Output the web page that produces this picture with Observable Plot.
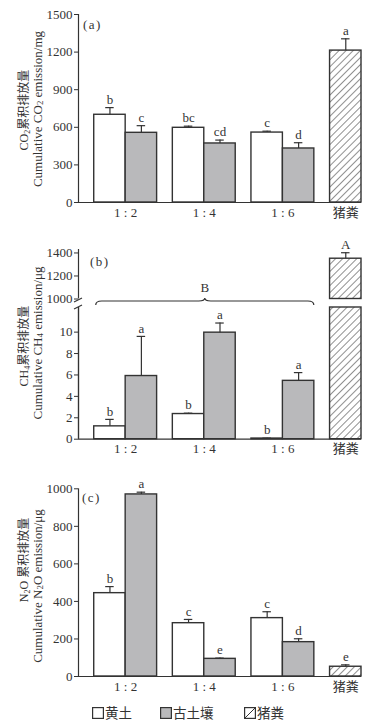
<!DOCTYPE html>
<html>
<head>
<meta charset="utf-8">
<script src="https://cdn.jsdelivr.net/npm/d3@7"></script>
<script src="https://cdn.jsdelivr.net/npm/@observablehq/plot@0.6"></script>
<style>
  html, body { margin: 0; padding: 0; background: #fff; }
  #root { position: relative; width: 379px; height: 727px; overflow: hidden; background: #fff;
          font-family: "Liberation Serif", "Noto Sans CJK SC", serif; color: #333; }
  #root svg { position: absolute; left: 0; overflow: visible; }
  .ylab { position: absolute; white-space: nowrap; font-size: 13px; line-height: 13px;
          transform: translate(-50%, -50%) rotate(-90deg); }
  .ylab.cn { font-size: 12px; line-height: 12px; }
  .ylab sub { font-size: 0.68em; vertical-align: -0.2em; line-height: 0; }
  .plab { position: absolute; font-size: 13px; letter-spacing: 1.5px; }
  .leg { position: absolute; font-size: 13.5px; font-family: "Noto Sans CJK SC", sans-serif; }
  .legbox { position: absolute; width: 12px; height: 12px; }
</style>
</head>
<body>
<div id="root"></div>
<script>
// ---------------- data ----------------
const groups = ["1:2", "1:4", "1:6"];
const manure = "猪粪";
const soils = ["黄土", "古土壤"];

// (a) CO2 cumulative emission, mg
const co2Loess = [700, 596, 558];
const co2LoessErr = [57, 13, 11];
const co2LoessSig = ["b", "bc", "c"];
const co2Paleo = [556, 471, 431];
const co2PaleoErr = [57, 27, 46];
const co2PaleoSig = ["c", "cd", "d"];
const co2Manure = 1212, co2ManureErr = 94, co2ManureSig = "a";
const co2Ticks = [0, 300, 600, 900, 1200, 1500];

// (b) CH4 cumulative emission, μg
const ch4Loess = [1.2, 2.35, 0.06];
const ch4LoessErr = [0.65, 0.08, 0.04];
const ch4LoessSig = ["b", "b", "b"];
const ch4Paleo = [5.9, 9.95, 5.45];
const ch4PaleoErr = [3.7, 0.9, 0.77];
const ch4PaleoSig = ["a", "a", "a"];
const ch4Manure = 1350, ch4ManureErr = 52, ch4ManureSig = "A";
const ch4SoilGroupSig = "B";
const ch4TicksHigh = [1000, 1200, 1400];
const ch4TicksLow = [0, 2, 4, 6, 8, 10];

// (c) N2O cumulative emission, μg
const n2oLoess = [444, 284, 311];
const n2oLoessErr = [35, 20, 34];
const n2oLoessSig = ["b", "c", "c"];
const n2oPaleo = [970, 94, 183];
const n2oPaleoErr = [12, 4, 18];
const n2oPaleoSig = ["a", "e", "d"];
const n2oManure = 52, n2oManureErr = 10, n2oManureSig = "e";
const n2oTicks = [0, 200, 400, 600, 800, 1000];

// ---------------- helpers ----------------
function buildRows(lv, le, ls, pv, pe, ps, mv, me, ms) {
  const rows = [];
  groups.forEach((g, i) => {
    rows.push({group: g, soil: soils[0], value: lv[i], err: le[i], sig: ls[i]});
    rows.push({group: g, soil: soils[1], value: pv[i], err: pe[i], sig: ps[i]});
  });
  rows.push({group: manure, soil: manure, value: mv, err: me, sig: ms});
  return rows;
}

// layout in half-bar units: gap 1, bar 2, bar 2 per group
const BAR = 2, GAP = 1, GROUP = GAP + 2 * BAR;
const groupIndex = d => d.soil === manure ? groups.length : groups.indexOf(d.group);
const x1Of = d => GAP + groupIndex(d) * GROUP + (d.soil === manure ? 0 : soils.indexOf(d.soil) * BAR);
const x2Of = d => x1Of(d) + BAR;
const cxOf = d => x1Of(d) + BAR / 2;
const xDomain = [0, GAP + groups.length * GROUP + BAR];
const xTickPos = [...groups.map((g, i) => GAP + i * GROUP + BAR), GAP + groups.length * GROUP + BAR / 2];
const xTickLab = [...groups.map(g => g.replace(":", " : ")), manure];

const INK = "#333";
const GREY = "#b9b9bb";

function addHatch(svg, id) {
  const p = d3.select(svg).insert("defs", ":first-child").append("pattern")
    .attr("id", id).attr("patternUnits", "userSpaceOnUse")
    .attr("width", 5).attr("height", 5).attr("patternTransform", "rotate(45)");
  p.append("rect").attr("width", 5).attr("height", 5).attr("fill", "#fff");
  p.append("line").attr("x1", 0).attr("y1", 0).attr("x2", 0).attr("y2", 5)
    .attr("stroke", INK).attr("stroke-width", 1.1);
}

function panel({rows, yDomain, yTicks, height, marginTop, marginBottom, clamp = false,
                base, xAxis = true, errors = true, hatchId}) {
  const data = rows;
  const errData = errors ? data : [];
  const marks = [
    Plot.rect(data.filter(d => d.soil === soils[0]), {x1: x1Of, x2: x2Of, y1: () => base, y2: "value", fill: "#fff", stroke: INK, strokeWidth: 1.4}),
    Plot.rect(data.filter(d => d.soil === soils[1]), {x1: x1Of, x2: x2Of, y1: () => base, y2: "value", fill: GREY, stroke: INK, strokeWidth: 1.4}),
    Plot.rect(data.filter(d => d.soil === manure), {x1: x1Of, x2: x2Of, y1: () => base, y2: "value", fill: `url(#${hatchId})`, stroke: INK, strokeWidth: 1.4}),
    Plot.ruleX(errData, {x: cxOf, y1: "value", y2: d => d.value + d.err, stroke: INK, strokeWidth: 1.2}),
    Plot.ruleY(errData, {y: d => d.value + d.err, x1: d => cxOf(d) - 0.27, x2: d => cxOf(d) + 0.27, stroke: INK, strokeWidth: 1.2}),
    Plot.text(errData, {x: cxOf, y: d => d.value + d.err, text: "sig", dy: -8, fontSize: 13, fill: INK}),
    Plot.ruleX([xDomain[0]], {stroke: INK, strokeWidth: 1.2}),
    Plot.axisY({ticks: yTicks, tickFormat: d3.format("d"), tickSize: 4, tickPadding: 2, label: null, fontSize: 13, stroke: INK, fill: INK})
  ];
  if (xAxis) {
    marks.push(Plot.ruleY([base], {stroke: INK, strokeWidth: 1.2}));
    marks.push(Plot.axisX({ticks: xTickPos, tickFormat: d => xTickLab[xTickPos.indexOf(d)], tickSize: 0, tickPadding: 5, label: null, fontSize: 13, fill: INK}));
  }
  const svg = Plot.plot({
    width: 379, height, marginLeft: 78, marginRight: 379 - 78 - 283, marginTop, marginBottom,
    x: {domain: xDomain, axis: null},
    y: {domain: yDomain, clamp, axis: null},
    style: {fontFamily: '"Liberation Serif", "Noto Sans CJK SC", serif', fontSize: "13px", color: INK, background: "transparent", overflow: "visible"},
    marks
  });
  addHatch(svg, hatchId);
  return svg;
}

const root = document.getElementById("root");
function place(el, top) { el.style.top = top + "px"; root.appendChild(el); return el; }
function html(cls, inner, css) {
  const d = document.createElement("div"); d.className = cls; d.innerHTML = inner;
  Object.assign(d.style, css); root.appendChild(d); return d;
}

// ---------------- panel a ----------------
const rowsA = buildRows(co2Loess, co2LoessErr, co2LoessSig, co2Paleo, co2PaleoErr, co2PaleoSig, co2Manure, co2ManureErr, co2ManureSig);
place(panel({rows: rowsA, yDomain: [0, 1500], yTicks: co2Ticks, height: 224, marginTop: 14, marginBottom: 22, base: 0, hatchId: "hatchA"}), 0);
html("plab", "(a)", {left: "83px", top: "17px"});
html("ylab cn", "CO<sub>2</sub>累积排放量", {left: "24px", top: "110px"});
html("ylab", "Cumulative CO<sub>2</sub> emission/mg", {left: "37px", top: "109px"});

// ---------------- panel b (broken axis) ----------------
const rowsB = buildRows(ch4Loess, ch4LoessErr, ch4LoessSig, ch4Paleo, ch4PaleoErr, ch4PaleoSig, ch4Manure, ch4ManureErr, ch4ManureSig);
const lowMax = 12.3;
const svgBTop = panel({rows: rowsB.filter(d => d.soil === manure), yDomain: [1000, 1430], yTicks: ch4TicksHigh, height: 60, marginTop: 9, marginBottom: 1.5,
  base: 1000, xAxis: false, hatchId: "hatchB1"});
place(svgBTop, 240);
const svgBLow = panel({rows: rowsB.filter(d => d.soil !== manure), yDomain: [0, lowMax], yTicks: ch4TicksLow, height: 165, marginTop: 7, marginBottom: 26.3,
  clamp: true, base: 0, hatchId: "hatchB2"});
place(svgBLow, 300);
const svgBLowManure = panel({rows: rowsB.filter(d => d.soil === manure), yDomain: [0, lowMax], yTicks: [], height: 165, marginTop: 7, marginBottom: 26.3,
  clamp: true, base: 0, hatchId: "hatchB3", xAxis: false, errors: false});
place(svgBLowManure, 300);

// break marks and brace drawn from the scales
(function () {
  const xs = svgBTop.scale("x"), ys = svgBTop.scale("y");
  const yb = ys.apply(1000);
  const ax = xs.apply(xDomain[0]);
  const g = d3.select(svgBTop).append("g").attr("stroke", INK).attr("fill", "none").attr("stroke-width", 1.2);
  g.append("line").attr("x1", ax - 4).attr("y1", yb + 3.5).attr("x2", ax + 4).attr("y2", yb - 0.5);
  const yt = svgBLow.scale("y").apply(lowMax) + 60; // lower svg is 60px below upper svg
  g.append("line").attr("x1", ax - 4).attr("y1", yt + 2).attr("x2", ax + 4).attr("y2", yt - 2);
  // brace spanning all soil bars
  const soilRows = rowsB.filter(d => d.soil !== manure);
  const bx0 = xs.apply(d3.min(soilRows, x1Of)) + 2, bx1 = xs.apply(d3.max(soilRows, x2Of));
  const bm = (bx0 + bx1) / 2, by = yb + 2.5;
  const p = d3.path();
  p.moveTo(bx0, by + 4); p.quadraticCurveTo(bx0, by, bx0 + 6, by);
  p.lineTo(bm - 6, by); p.quadraticCurveTo(bm, by, bm, by - 3);
  p.quadraticCurveTo(bm, by, bm + 6, by); p.lineTo(bx1 - 6, by);
  p.quadraticCurveTo(bx1, by, bx1, by + 4);
  g.append("path").attr("d", p.toString());
  d3.select(svgBTop).append("text").attr("x", bm).attr("y", by - 9).attr("text-anchor", "middle")
    .attr("fill", INK).attr("font-size", 13).text(ch4SoilGroupSig);
})();
html("plab", "(b)", {left: "90px", top: "254px"});
html("ylab cn", "CH<sub>4</sub>累积排放量", {left: "24px", top: "346px"});
html("ylab", "Cumulative CH<sub>4</sub> emission/μg", {left: "37px", top: "343px"});

// ---------------- panel c ----------------
const rowsC = buildRows(n2oLoess, n2oLoessErr, n2oLoessSig, n2oPaleo, n2oPaleoErr, n2oPaleoSig, n2oManure, n2oManureErr, n2oManureSig);
place(panel({rows: rowsC, yDomain: [0, 1000], yTicks: n2oTicks, height: 224, marginTop: 12.3, marginBottom: 24, base: 0, hatchId: "hatchC"}), 476);
html("plab", "(c)", {left: "82px", top: "490px"});
html("ylab cn", "N<sub>2</sub>O 累积排放量", {left: "24px", top: "560px"});
html("ylab", "Cumulative N<sub>2</sub>O emission/μg", {left: "37px", top: "586px"});

// ---------------- legend ----------------
function legBox(left, fill) {
  const s = d3.create("svg").attr("width", 12).attr("height", 12).attr("class", "legbox")
    .style("left", left + "px").style("top", "707px");
  if (fill === "hatch") {
    const p = s.append("defs").append("pattern").attr("id", "hatchL").attr("patternUnits", "userSpaceOnUse")
      .attr("width", 12).attr("height", 12);
    p.append("rect").attr("width", 12).attr("height", 12).attr("fill", "#fff");
    p.append("line").attr("x1", 1).attr("y1", 11).attr("x2", 11).attr("y2", 1).attr("stroke", INK).attr("stroke-width", 1);
    fill = "url(#hatchL)";
  }
  s.append("rect").attr("x", 0.6).attr("y", 0.6).attr("width", 10.8).attr("height", 10.8)
    .attr("fill", fill).attr("stroke", INK).attr("stroke-width", 1.2);
  root.appendChild(s.node());
}
legBox(92, "#fff");
legBox(160, GREY);
legBox(244, "hatch");
html("leg", soils[0], {left: "105px", top: "702px"});
html("leg", soils[1], {left: "173px", top: "702px"});
html("leg", manure, {left: "257px", top: "702px"});
</script>
</body>
</html>
